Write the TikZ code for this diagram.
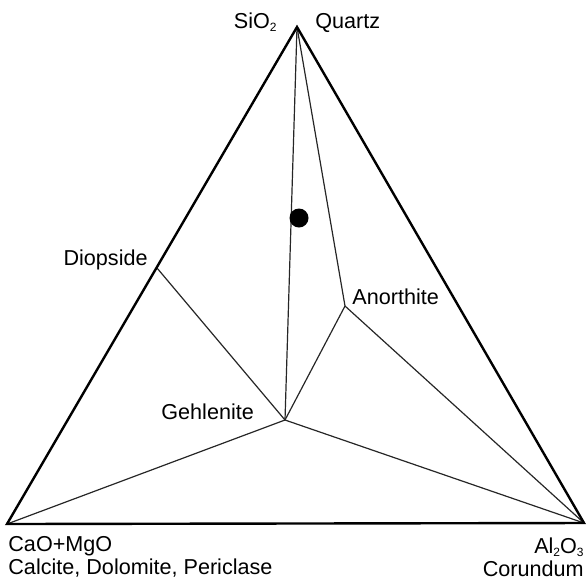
\documentclass[tikz,border=0pt]{standalone}
\usepackage{fontspec}
\setmainfont{Liberation Sans}

\begin{document}
\begin{tikzpicture}[x=0.5pt,y=-0.5pt,
  edge/.style={black,line width=1.2pt},
  tie/.style={black!85,line width=0.6pt},
  lbl/.style={inner sep=0pt,font=\fontsize{10.8}{12}\selectfont}]
\useasboundingbox (0,0) rectangle (587,579);
% corners of the triangle
\coordinate (Si) at (297,27);
\coordinate (Ca) at (7,524);
\coordinate (Al) at (584,523);
% phases
\coordinate (Di) at (157,268);
\coordinate (An) at (345,306);
\coordinate (Ge) at (285,420);
% tie lines
\draw[tie] (Si) -- (Ge);
\draw[tie] (Si) -- (An);
\draw[tie] (Di) -- (Ge);
\draw[tie] (Ge) -- (An);
\draw[tie] (An) -- (Al);
\draw[tie] (Ge) -- (Ca);
\draw[tie] (Ge) -- (Al);
\draw[edge,line join=miter] (Si) -- (Ca) -- (Al) -- cycle;
% sample
\fill (299,218) circle (9.5);
% labels
\node[lbl,anchor=base east] (siO) at (277,28) {SiO\raisebox{-0.3ex}{\fontsize{6}{7}\selectfont 2}};
\node[lbl,anchor=base west] (qz) at (315,28) {Quartz};
\node[lbl,anchor=base east] (dio) at (148,265) {Diopside};
\node[lbl,anchor=base west] (ano) at (352,304) {Anorthite};
\node[lbl,anchor=base west] (geh) at (161,419) {Gehlenite};
\node[lbl,anchor=base west] (cao) at (8,551) {CaO+MgO};
\node[lbl,anchor=base west] (cal) at (8,574) {Calcite, Dolomite, Periclase};
\node[lbl,anchor=base east] (alo) at (584,553) {Al\raisebox{-0.3ex}{\fontsize{6}{7}\selectfont 2}O\raisebox{-0.3ex}{\fontsize{6}{7}\selectfont 3}};
\node[lbl,anchor=base east] (cor) at (584,576) {Corundum};
\end{tikzpicture}
\end{document}
